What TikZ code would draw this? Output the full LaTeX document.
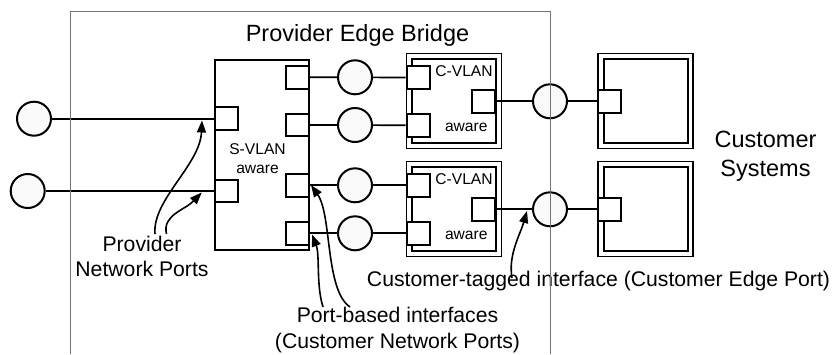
\documentclass[tikz,border=0pt]{standalone}
\usepackage{fontspec}
\setmainfont{Liberation Sans}
\usetikzlibrary{arrows.meta}
\begin{document}
\begin{tikzpicture}[x=1pt,y=-1pt,
  frame/.style={draw=black!55, line width=1pt},
  bridgebox/.style={draw, line width=2pt, fill=white, inner sep=0pt},
  dblbox/.style={draw, line width=1.7pt, double=white, double distance=3.8pt,
    fill=white, inner sep=0pt, minimum width=89.4pt, minimum height=89.4pt},
  port/.style={draw, line width=2pt, fill=white, inner sep=0pt,
    minimum width=23pt, minimum height=22.5pt},
  iface/.style={circle, draw, line width=2pt, fill=black!2, inner sep=0pt,
    minimum size=34pt},
  link/.style={line width=1.7pt},
  callout/.style={line width=1.6pt, -{Triangle[length=12pt,width=9pt]}},
  big/.style={font=\fontsize{23.5}{29}\selectfont, inner sep=0pt, align=center, anchor=base},
  label/.style={font=\fontsize{21.2}{25.5}\selectfont, inner sep=0pt, align=center, anchor=base},
  small/.style={font=\fontsize{15.6}{19.5}\selectfont, inner sep=0pt, align=center, anchor=base}]

\useasboundingbox (0,0) rectangle (836,354);

% S-VLAN aware component (multi-line nodes are placed by their last baseline)
\node[bridgebox, minimum width=94pt, minimum height=189.6pt] (svlan) at (262,155) {};
\node[small] (svlantxt) at (257.5,173.5) {S-VLAN\\aware};

% provider network ports
\node[port] (pnp1) at (226.5,118.7) {};
\node[port] (pnp2) at (226.5,191) {};

% customer network ports of the S-VLAN component
\node[port] (cnp1) at (297.5,77.3) {};
\node[port] (cnp2) at (297.5,125) {};
\node[port] (cnp3) at (297.5,185.3) {};
\node[port] (cnp4) at (297.5,233.3) {};

% C-VLAN aware components
\node[dblbox] (cv1) at (454,101) {};
\node[dblbox] (cv2) at (454,209) {};
\node[small] (cv1a) at (464,76.3) {C-VLAN};
\node[small] (cv1b) at (466.3,131.7) {aware};
\node[small] (cv2a) at (464,184.3) {C-VLAN};
\node[small] (cv2b) at (466.3,239.7) {aware};
\node[port] (cv1p1) at (418.1,77.5) {};
\node[port] (cv1p2) at (418.1,125.3) {};
\node[port] (cv1out) at (483.6,101.3) {};
\node[port] (cv2p1) at (418.1,185.3) {};
\node[port] (cv2p2) at (418.1,233.3) {};
\node[port] (cv2out) at (483.6,209.3) {};

% customer systems
\node[dblbox] (cs1) at (645.7,101) {};
\node[dblbox] (cs2) at (645.7,209) {};
\node[port] (cs1p) at (609.7,101.3) {};
\node[port] (cs2p) at (609.7,209.3) {};
\node[big] (custsys) at (765.5,176.7) {Customer\\Systems};

% LAN interfaces
\node[iface] (pl1) at (34,118.7) {};
\node[iface] (pl2) at (27.7,191) {};
\node[iface] (il1) at (355,77.3) {};
\node[iface] (il2) at (355,125) {};
\node[iface] (il3) at (355,185.3) {};
\node[iface] (il4) at (355,233.3) {};
\node[iface] (cl1) at (550,101.3) {};
\node[iface] (cl2) at (550,209.3) {};

% links
\draw[link] (pl1) -- (pnp1.west);
\draw[link] (pl2) -- (pnp2.west);
\draw[link] (cnp1.east) -- (il1) -- (cv1p1.west);
\draw[link] (cnp2.east) -- (il2) -- (cv1p2.west);
\draw[link] (cnp3.east) -- (il3) -- (cv2p1.west);
\draw[link] (cnp4.east) -- (il4) -- (cv2p2.west);
\draw[link] (cv1out.east) -- (cl1) -- (cs1p.west);
\draw[link] (cv2out.east) -- (cl2) -- (cs2p.west);

% labels
\node[big] (title) at (357.5,41.7) {Provider Edge Bridge};
\node[label] (pnplbl) at (142,276.7) {Provider\\Network Ports};
\node[label] (cnplbl) at (397.5,348.3) {Port-based interfaces\\(Customer Network Ports)};
\node[label] (ceplbl) at (598.5,286.7) {Customer-tagged interface (Customer Edge Port)};

% callout arrows
\coordinate (a1s) at (155,234);
\coordinate (a1t) at (202,120.5);
\coordinate (a2s) at (166.5,234);
\coordinate (a2t) at (201.7,192.5);
\coordinate (a3s) at (350,307);
\coordinate (a3t) at (311,185);
\coordinate (a4s) at (323,307);
\coordinate (a4t) at (312,234.5);
\coordinate (a5s) at (512,278);
\coordinate (a5t) at (527,211);
\draw[callout] (a1s) .. controls (152,200) and (200,165) .. (a1t);
\draw[callout] (a2s) .. controls (162,215) and (185,210) .. (a2t);
\draw[callout] (a3s) .. controls (325,290) and (332,215) .. (a3t);
\draw[callout] (a4s) .. controls (316,285) and (320,255) .. (a4t);
\draw[callout] (a5s) .. controls (508,255) and (520,235) .. (a5t);

% provider edge bridge boundary
\draw[frame] (70,354) -- (70,11) -- (550,11) -- (550,354);
\end{tikzpicture}
\end{document}
